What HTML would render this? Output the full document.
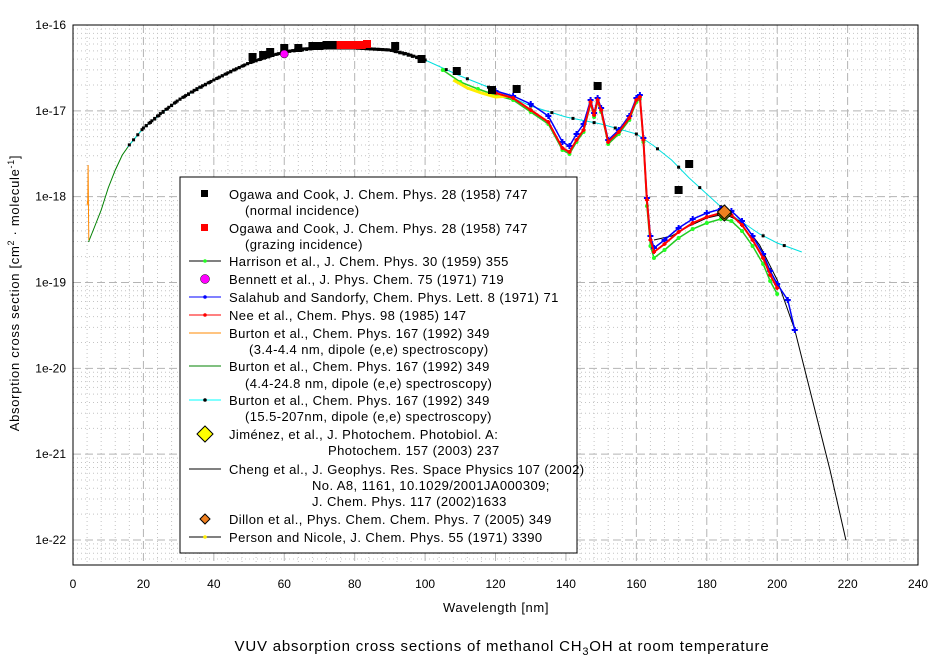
<!DOCTYPE html>
<html><head><meta charset="utf-8"><style>
body{margin:0;background:#fff;}
svg{display:block;font-family:"Liberation Sans",Arial,sans-serif;}
</style></head><body>
<svg id="s" width="944" height="662" xmlns="http://www.w3.org/2000/svg">
<rect width="944" height="662" fill="#fff"/>
<g id="grid"></g>
<g id="data"></g>
<rect x="73" y="25" width="845" height="540" fill="none" stroke="#000" stroke-width="1"/>
<g id="ticks" font-size="12" fill="#000"></g>
<text x="496" y="612" font-size="13" letter-spacing="0.6" text-anchor="middle">Wavelength [nm]</text>
<text transform="translate(19,293) rotate(-90)" font-size="13" letter-spacing="0.7" text-anchor="middle">Absorption cross section [cm<tspan font-size="9" dy="-5">2</tspan><tspan dy="5"> · molecule</tspan><tspan font-size="9" dy="-5">-1</tspan><tspan dy="5">]</tspan></text>
<text x="502" y="651" font-size="15" letter-spacing="0.8" text-anchor="middle">VUV absorption cross sections of methanol CH<tspan font-size="11" dy="4">3</tspan><tspan dy="-4">OH at room temperature</tspan></text>
<g id="leg"></g>
</svg>
<script>
const NS="http://www.w3.org/2000/svg";
const X=n=>73+n*3.521, Y=v=>25+(-16-v)*85.83;
function el(p,t,a,txt){const e=document.createElementNS(NS,t);for(const k in a)e.setAttribute(k,a[k]);if(txt!=null)e.textContent=txt;p.appendChild(e);return e;}
const g=document.getElementById('grid'),d=document.getElementById('data'),tk=document.getElementById('ticks'),lg=document.getElementById('leg');
for(let n=4;n<240;n+=4){if(n%20==0)continue;el(g,'line',{x1:X(n),x2:X(n),y1:25,y2:565,stroke:'#c4c4c4','stroke-dasharray':'1,3'});}
for(let dcd=-23;dcd<=-17;dcd++)for(let m=2;m<=9;m++){const y=Y(dcd+Math.log10(m));if(y>565||y<25)continue;el(g,'line',{x1:73,x2:918,y1:y,y2:y,stroke:'#c4c4c4','stroke-dasharray':'1,3'});}
for(let n=20;n<240;n+=20)el(g,'line',{x1:X(n),x2:X(n),y1:25,y2:565,stroke:'#b4b4b4','stroke-dasharray':'8,4'});
[-17,-18,-19,-20,-21,-22].forEach(v=>el(g,'line',{x1:73,x2:918,y1:Y(v),y2:Y(v),stroke:'#b4b4b4','stroke-dasharray':'8,4'}));
for(let n=0;n<=240;n+=20){el(tk,'text',{x:X(n),y:588,'text-anchor':'middle'},String(n));}
[-16,-17,-18,-19,-20,-21,-22].forEach(v=>{el(tk,'text',{x:66,y:Y(v)+4,'text-anchor':'end'},'1e'+v);});
const P=a=>a.map(p=>X(p[0]).toFixed(1)+','+p[1]).join(' ');
function poly(a,c,w){el(d,'polyline',{points:P(a),fill:'none',stroke:c,'stroke-width':w||1});}
function interp(a,n){for(let i=0;i<a.length-1;i++)if(n>=a[i][0]&&n<=a[i+1][0]){const t=(n-a[i][0])/(a[i+1][0]-a[i][0]);return a[i][1]+t*(a[i+1][1]-a[i][1]);}return null;}
const main=[[15,148],[20,128],[25,113],[30,100],[35,89],[40,80],[45,71],[50,63],[55,57],[60,52],[65,49],[70,48],[80,48],[90,50],[95,54],[100,60],[105,68],[110,80],[115,87],[120,93],[125,98],[130,110],[135,122],[139,148],[141,152],[143,140],[145,130],[147,102],[148,115],[149,100],[150,110],[152,142],[155,132],[158,118],[160,100],[161,97],[162,140],[163,200],[164,240],[165,252],[168,244],[172,232],[176,223],[180,217],[184,213],[187,215],[190,225],[193,240],[196,258],[198,275],[200,288]];
poly([[4.4,242],[6,228],[8,210],[10,188],[12,170],[14,155],[16,145],[20,128],[24.8,114]],'#008000');
const cy=[[15.5,147],[20,128],[30,100],[40,80],[50,63],[60,52],[70,48],[80,48],[90,50],[100,60],[110,76],[120,90],[130,106],[140,117],[150,124],[160,134],[165,146],[170,160],[175,178],[180,194],[185,210],[190,222],[195,234],[200,243],[207,252]];
poly(cy,'#00e0e0');
for(let n=16;n<=207;n+=(n<100?1.2:6)){const y=interp(cy,n);el(d,'rect',{x:X(n)-1.5,y:y-1.5,width:3,height:3,fill:'#000'});}
const gr=main.map(p=>[p[0],p[1]+(p[0]>162?6:2)]).filter(p=>p[0]>=105);
poly(gr,'#22cc22',1.5);gr.forEach(p=>el(d,'circle',{cx:X(p[0]),cy:p[1],r:2,fill:'#22ff22'}));
poly([[108,80],[112,88],[116,93],[120,97],[124,96]],'#ffee00',3);
poly([[165,240],[170,236],[175,226],[180,218],[185,214],[190,222],[195,245],[200,280],[205,330],[210,400],[215,470],[219.5,540]],'#000');
const bl=main.map(p=>[p[0],p[1]+(p[0]>=130&&p[0]<=145?-6:(p[0]>163?-4:-2))]).filter(p=>p[0]>=120);
bl.push([203,300],[205,330]);
poly(bl,'#0000ff',1.5);bl.forEach(p=>el(d,'path',{d:`M${X(p[0])-3},${p[1]}h6M${X(p[0])},${p[1]-3}v6`,stroke:'#0000ff','stroke-width':2}));
const rd=main.filter(p=>p[0]>=118);
poly(rd,'#ff0000',2);rd.forEach(p=>el(d,'path',{d:`M${X(p[0])-2},${p[1]}h4M${X(p[0])},${p[1]-2}v4`,stroke:'#ff0000','stroke-width':2}));
for(let n=20;n<=100;n+=0.8){const y=interp(main,n);el(d,'rect',{x:X(n)-1.5,y:y-1.5,width:3,height:3,fill:'#000'});}
poly([[4,205],[4.2,200],[4.3,165],[4.4,212],[4.5,240]],'#ff8800');
[[51,57],[54,55],[56,52],[60,48],[64,48],[68,46],[70,46],[72,45],[74,45],[91.5,46],[99,59],[109,71],[119,90],[126,89],[149,86],[175,164],[172,190]].forEach(p=>el(d,'rect',{x:X(p[0])-4,y:p[1]-4,width:8,height:8,fill:'#000'}));
[[76,45],[78,45],[80,45],[82,45],[83.5,44]].forEach(p=>el(d,'rect',{x:X(p[0])-4,y:p[1]-4,width:8,height:8,fill:'#ff0000'}));
el(d,'circle',{cx:X(60),cy:54,r:4,fill:'#ff00ff',stroke:'#000','stroke-width':0.5});
el(d,'path',{d:`M${X(185)},207l7,7l-7,7l-7,-7z`,fill:'#ffee00',stroke:'#000'});
el(d,'path',{d:`M${X(185)},205l7,7l-7,7l-7,-7z`,fill:'#f08020',stroke:'#000'});
el(lg,'rect',{x:180,y:177,width:397,height:376,fill:'#fff',stroke:'#000'});
const rows=[[194,'Ogawa and Cook, J. Chem. Phys. 28 (1958) 747','sqk'],[210,'(normal incidence)',null,245],[228,'Ogawa and Cook, J. Chem. Phys. 28 (1958) 747','sqr'],[244,'(grazing incidence)',null,245],
[261,'Harrison et al., J. Chem. Phys. 30 (1959) 355','lg'],[279,'Bennett et al., J. Phys. Chem. 75 (1971) 719','mag'],[297,'Salahub and Sandorfy, Chem. Phys. Lett. 8 (1971) 71','lb'],[315,'Nee et al., Chem. Phys. 98 (1985) 147','lr'],
[333,'Burton et al.,  Chem. Phys. 167 (1992) 349','lo'],[349,'(3.4-4.4 nm, dipole (e,e) spectroscopy)',null,249],[366,'Burton et al.,  Chem. Phys. 167 (1992) 349','lgg'],[383,'(4.4-24.8 nm, dipole (e,e) spectroscopy)',null,245],
[400,'Burton et al.,  Chem. Phys. 167 (1992) 349','lc'],[416,'(15.5-207nm, dipole (e,e) spectroscopy)',null,245],[434,'Jiménez, et al., J. Photochem. Photobiol. A:','dy'],[450,'Photochem. 157 (2003) 237',null,328],
[469,'Cheng et al., J. Geophys. Res. Space Physics 107 (2002)','lk'],[485,'No. A8, 1161, 10.1029/2001JA000309;',null,312],[501,'J. Chem. Phys. 117 (2002)1633',null,312],[519,'Dillon et al., Phys. Chem. Chem. Phys. 7 (2005) 349','do'],[537,'Person and Nicole, J. Chem. Phys. 55 (1971) 3390','ly']];
rows.forEach(r=>{const [y,t,s,x]=r;el(lg,'text',{x:x||229,y:y+5,'font-size':13,'letter-spacing':0.42},t);
 if(!s)return;const ln=(c,m)=>{el(lg,'line',{x1:189,x2:221,y1:y,y2:y,stroke:c});if(m)el(lg,'circle',{cx:205,cy:y,r:1.8,fill:m});};
 if(s=='sqk')el(lg,'rect',{x:201,y:y-4,width:7,height:7,fill:'#000'});
 if(s=='sqr')el(lg,'rect',{x:201,y:y-4,width:7,height:7,fill:'#f00'});
 if(s=='lg')ln('#000','#22ff22');if(s=='lb')ln('#00f','#00f');if(s=='lr')ln('#f00','#f00');if(s=='lo')ln('#ff8800');if(s=='lgg')ln('#008000');if(s=='lc')ln('#00ffff','#000');if(s=='lk')ln('#000');if(s=='ly')ln('#000','#ffee00');
 if(s=='mag')el(lg,'circle',{cx:205,cy:y,r:4.5,fill:'#ff00ff',stroke:'#000','stroke-width':0.5});
 if(s=='dy')el(lg,'path',{d:`M205,${y-8}l8,8l-8,8l-8,-8z`,fill:'#ffff00',stroke:'#000'});
 if(s=='do')el(lg,'path',{d:`M205,${y-5}l5,5l-5,5l-5,-5z`,fill:'#f08020',stroke:'#000'});
});
</script>
</body></html>
